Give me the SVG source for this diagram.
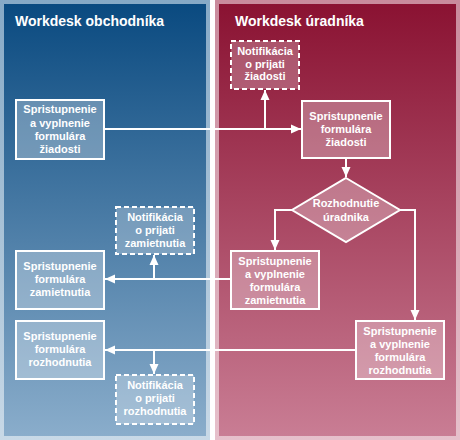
<svg xmlns="http://www.w3.org/2000/svg" width="460" height="440" viewBox="0 0 460 440">
<defs>
<linearGradient id="gLo" x1="0" y1="0" x2="0" y2="1"><stop offset="0" stop-color="#86a9c6"/><stop offset="1" stop-color="#c8d9e7"/></linearGradient>
<linearGradient id="gLi" x1="0" y1="0" x2="0" y2="1"><stop offset="0" stop-color="#0a4a80"/><stop offset="1" stop-color="#8aadcb"/></linearGradient>
<linearGradient id="gRo" x1="0" y1="0" x2="0" y2="1"><stop offset="0" stop-color="#c98a9c"/><stop offset="1" stop-color="#e6c0cb"/></linearGradient>
<linearGradient id="gRi" x1="0" y1="0" x2="0" y2="1"><stop offset="0" stop-color="#8a1232"/><stop offset="1" stop-color="#c97d94"/></linearGradient>
<marker id="ah" markerWidth="10" markerHeight="10" viewBox="0 0 10 10" refX="10" refY="5" orient="auto" markerUnits="userSpaceOnUse">
<path d="M0,0.5 L10,5 L0,9.5 Z" fill="#ffffff"/>
</marker>
</defs>
<style>
.box{fill:#ffffff;fill-opacity:0.3;stroke:#ffffff;stroke-width:2}
.note{fill:#ffffff;fill-opacity:0.25;stroke:#ffffff;stroke-width:2;stroke-dasharray:5 3}
.t{font-family:"Liberation Sans",Arial,sans-serif;font-size:11px;font-weight:bold;fill:#ffffff;text-anchor:middle}
.title{font-family:"Liberation Sans",Arial,sans-serif;font-size:14px;font-weight:bold;fill:#ffffff}
.c{fill:none;stroke:#ffffff;stroke-width:2}
</style>
<rect x="0" y="0" width="460" height="440" fill="#ffffff"/>
<g id="lane-obchodnik">
<rect x="0" y="0" width="210" height="440" fill="url(#gLo)"/>
<rect x="4" y="4" width="202" height="432" fill="url(#gLi)"/>
<text class="title" x="15" y="26">Workdesk obchodníka</text>
</g>
<g id="lane-uradnik">
<rect x="215" y="0" width="245" height="440" fill="url(#gRo)"/>
<rect x="219" y="4" width="237" height="432" fill="url(#gRi)"/>
<text class="title" x="235" y="26">Workdesk úradníka</text>
</g>
<g id="connectors">
<path class="c" d="M104,129 H301" marker-end="url(#ah)"/>
<path class="c" d="M265,129 V90" marker-end="url(#ah)"/>
<path class="c" d="M346,158 V177" marker-end="url(#ah)"/>
<path class="c" d="M292,210 H275 V250" marker-end="url(#ah)"/>
<path class="c" d="M400,210 H415 V320" marker-end="url(#ah)"/>
<path class="c" d="M231,279 H105" marker-end="url(#ah)"/>
<path class="c" d="M154,279 V255" marker-end="url(#ah)"/>
<path class="c" d="M356,350 H105" marker-end="url(#ah)"/>
<path class="c" d="M154,350 V374" marker-end="url(#ah)"/>
</g>
<g id="n-ziadost-vyplnenie">
<rect class="box" x="16" y="100" width="88" height="59"/>
<text class="t" x="60" y="113">Spristupnenie</text>
<text class="t" x="60" y="127">a vyplnenie</text>
<text class="t" x="60" y="140">formulára</text>
<text class="t" x="60" y="153">žiadosti</text>
</g>
<g id="n-notif-ziadost">
<rect class="note" x="231" y="41" width="68" height="48"/>
<text class="t" x="265" y="55">Notifikácia</text>
<text class="t" x="265" y="67.5">o prijati</text>
<text class="t" x="265" y="80">žiadosti</text>
</g>
<g id="n-ziadost-formular">
<rect class="box" x="302" y="101" width="88" height="57"/>
<text class="t" x="346" y="120">Spristupnenie</text>
<text class="t" x="346" y="133">formulára</text>
<text class="t" x="346" y="146">žiadosti</text>
</g>
<g id="n-rozhodnutie">
<polygon class="box" points="346,178 400,210 346,242 292,210"/>
<text class="t" x="346" y="207">Rozhodnutie</text>
<text class="t" x="346" y="221">úradnika</text>
</g>
<g id="n-zamietnutie-vyplnenie">
<rect class="box" x="231" y="251" width="88" height="58"/>
<text class="t" x="275" y="265">Spristupnenie</text>
<text class="t" x="275" y="278">a vyplnenie</text>
<text class="t" x="275" y="291">formulára</text>
<text class="t" x="275" y="304">zamietnutia</text>
</g>
<g id="n-zamietnutie-formular">
<rect class="box" x="16" y="251" width="88" height="58"/>
<text class="t" x="60" y="270">Spristupnenie</text>
<text class="t" x="60" y="283">formulára</text>
<text class="t" x="60" y="296">zamietnutia</text>
</g>
<g id="n-notif-zamietnutie">
<rect class="note" x="116" y="207" width="78" height="47"/>
<text class="t" x="155" y="221">Notifikácia</text>
<text class="t" x="155" y="234">o prijati</text>
<text class="t" x="155" y="247">zamietnutia</text>
</g>
<g id="n-rozhodnutie-vyplnenie">
<rect class="box" x="356" y="321" width="88" height="58"/>
<text class="t" x="400" y="335">Spristupnenie</text>
<text class="t" x="400" y="348">a vyplnenie</text>
<text class="t" x="400" y="361">formulára</text>
<text class="t" x="400" y="374">rozhodnutia</text>
</g>
<g id="n-rozhodnutie-formular">
<rect class="box" x="16" y="321" width="88" height="58"/>
<text class="t" x="60" y="340">Spristupnenie</text>
<text class="t" x="60" y="353">formulára</text>
<text class="t" x="60" y="366">rozhodnutia</text>
</g>
<g id="n-notif-rozhodnutie">
<rect class="note" x="116" y="375" width="78" height="49"/>
<text class="t" x="155" y="389">Notifikácia</text>
<text class="t" x="155" y="402">o prijati</text>
<text class="t" x="155" y="415">rozhodnutia</text>
</g>
</svg>
